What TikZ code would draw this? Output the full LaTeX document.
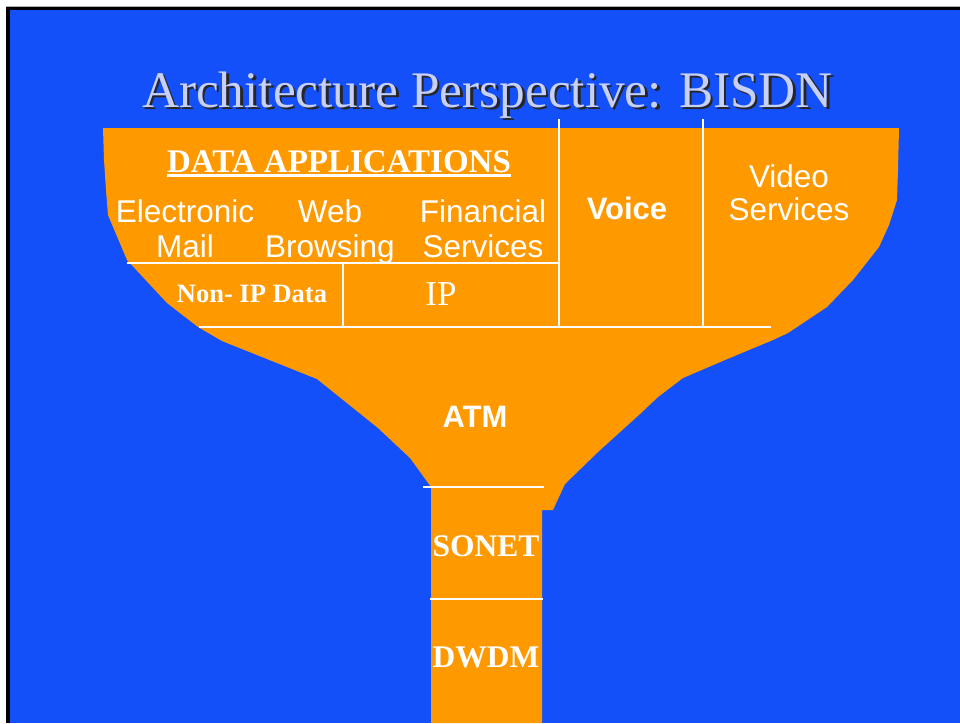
\documentclass[tikz,border=0pt]{standalone}
\usepackage{fontspec}
\setmainfont{Liberation Serif}
\newfontfamily\arialf{Liberation Sans}
\definecolor{slideblue}{RGB}{20,80,250}
\definecolor{funnelor}{RGB}{255,153,0}
\definecolor{titlecol}{RGB}{200,208,248}
\begin{document}
\begin{tikzpicture}[x=1pt,y=-1pt,
  sepline/.style={draw=white, line width=1.3pt},
  sanslbl/.style={text=white, font=\arialf\fontsize{31.5}{35}\selectfont, align=center, inner sep=0pt, anchor=base},
  sansbold/.style={text=white, font=\arialf\bfseries\fontsize{31}{34}\selectfont, inner sep=0pt, anchor=base},
  serifbold/.style={text=white, font=\bfseries\fontsize{31.5}{34}\selectfont, inner sep=0pt, anchor=base},
  titlefont/.style={font=\fontsize{51.3}{60}\selectfont, inner sep=0pt, anchor=base}
]
\useasboundingbox (0,0) rectangle (960,723);
% slide background and frame
\fill[white] (0,0) rectangle (960,723);
\fill[slideblue] (10,10) rectangle (960,723);
\draw[gray!60, line width=1pt] (6,6.5) -- (960,6.5);
\draw[black, line width=3.5pt] (6,8.5) -- (960,8.5);
\draw[black, line width=4pt] (8,7) -- (8,723);
% funnel shape
\fill[funnelor] (103,128) -- (899,128) -- (898,170) -- (897,200) -- (889,225) -- (879,247)
  -- (853,280) -- (827,307) -- (788,333) -- (773,340) -- (725,360) -- (683,378)
  -- (658,397) -- (640,414) -- (598,452) -- (565,484) -- (553,510) -- (542,510)
  -- (542,723) -- (431,723) -- (431,487) -- (410,458) -- (378,428) -- (317,379)
  -- (222,341) -- (198,327) -- (167,303) -- (127,260) -- (108,215) -- (106,190)
  -- (104,160) -- cycle;
% separators
\draw[sepline] (559,119) -- (559,327);
\draw[sepline] (703,119) -- (703,327);
\draw[sepline] (127,263) -- (558,263);
\draw[sepline] (343,263) -- (343,327);
\draw[sepline] (199,327) -- (771,327);
\draw[sepline] (423,487) -- (544,487);
\draw[sepline] (430,599) -- (543,599);
% title with shadow
\node[titlefont, text=black!85] (titleshadow) at (490,109.5) {Architecture Perspective: BISDN};
\node[titlefont, text=titlecol] (title) at (487.5,107) {Architecture Perspective: BISDN};
% labels
\node[text=white, font=\bfseries\fontsize{33}{36}\selectfont, inner sep=0pt, anchor=base] (dataapps) at (339,172) {DATA APPLICATIONS};
\draw[white, line width=2.5pt] ([yshift=-3.5pt]dataapps.base west) -- ([yshift=-3.5pt]dataapps.base east);
\node[sanslbl] (email) at (185,257) {Electronic\\Mail};
\node[sanslbl] (web) at (330,257) {Web\\Browsing};
\node[sanslbl] (fin) at (483,257) {Financial\\Services};
\node[text=white, font=\bfseries\fontsize{26.5}{30}\selectfont, inner sep=0pt, anchor=base] (nonip) at (252,302) {Non- IP Data};
\node[text=white, font=\fontsize{35}{40}\selectfont, inner sep=0pt, anchor=base] (ip) at (441,305) {IP};
\node[sansbold] (voice) at (627,219) {Voice};
\node[sanslbl, font=\arialf\fontsize{31.5}{33}\selectfont] (video) at (789,220) {Video\\Services};
\node[sansbold] (atm) at (475,427) {ATM};
\node[serifbold] (sonet) at (486,556) {SONET};
\node[serifbold] (dwdm) at (486,667) {DWDM};
\end{tikzpicture}
\end{document}
